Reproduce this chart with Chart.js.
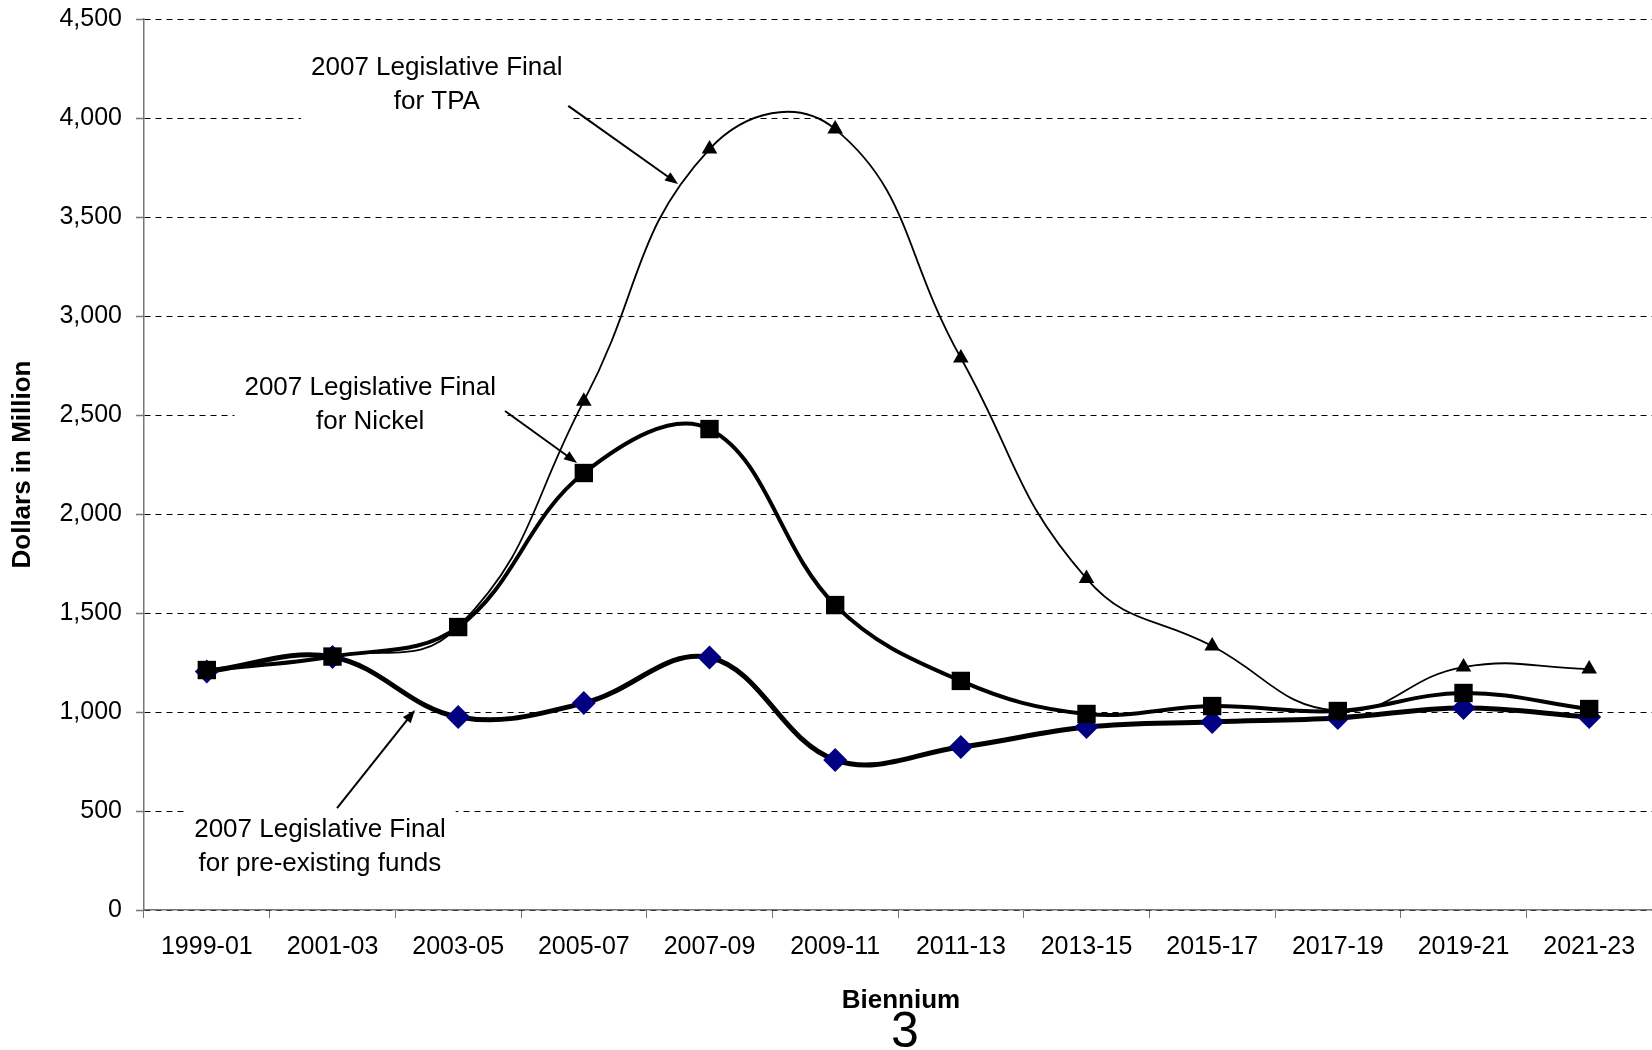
<!DOCTYPE html>
<html>
<head>
<meta charset="utf-8">
<script src="https://cdn.jsdelivr.net/npm/chart.js@4"></script>
<style>
  html, body { margin: 0; padding: 0; background: #fff; }
  canvas { display: block; }
</style>
</head>
<body>
<canvas id="biennium" width="1652" height="1050"></canvas>
<script>
// Biennium labels and values (dollars in million)
const categories = ['1999-01', '2001-03', '2003-05', '2005-07', '2007-09', '2009-11',
                    '2011-13', '2013-15', '2015-17', '2017-19', '2019-21', '2021-23'];
const tpaValues = [1210, 1280, 1430, 2570, 3843, 3944, 2788, 1674, 1333, 1005, 1227, 1217];
const nickelValues = [1212, 1280, 1429, 2207, 2429, 1540, 1157, 990, 1030, 1005, 1096, 1015];
const preExistingValues = [1205, 1278, 975, 1045, 1275, 758, 823, 924, 950, 970, 1020, 975];

// callouts: text centre, arrow start and arrow tip, given as [category index, value]
const callouts = [
  { lines: ['2007 Legislative Final', 'for TPA'], at: [1.83, 4167], from: [2.876, 4061], to: [3.75, 3667] },
  { lines: ['2007 Legislative Final', 'for Nickel'], at: [1.30, 2551], from: [2.373, 2520], to: [2.946, 2258] },
  { lines: ['2007 Legislative Final', 'for pre-existing funds'], at: [0.90, 318], from: [1.036, 515], to: [1.656, 1010] }
];

const FONT = '"Liberation Sans", Arial, sans-serif';

function pos(chart, p) {
  return { x: chart.scales.x.getPixelForValue(p[0]), y: chart.scales.y.getPixelForValue(p[1]) };
}

const calloutPlugin = {
  id: 'callouts',
  beforeDatasetsDraw(chart) {
    const ctx = chart.ctx;
    ctx.save();
    ctx.font = '26px ' + FONT;
    callouts.forEach(c => {
      const p = pos(chart, c.at);
      const w = Math.max(...c.lines.map(l => ctx.measureText(l).width)) + 20;
      ctx.fillStyle = '#fff';
      ctx.fillRect(p.x - w / 2, p.y - 38, w, 76);
    });
    ctx.restore();
  },
  afterDatasetsDraw(chart) {
    const ctx = chart.ctx;
    const area = chart.chartArea;
    ctx.save();
    ctx.fillStyle = '#000';
    ctx.strokeStyle = '#000';
    ctx.font = '26px ' + FONT;
    ctx.textAlign = 'center';
    ctx.textBaseline = 'middle';
    callouts.forEach(c => {
      const p = pos(chart, c.at);
      ctx.fillText(c.lines[0], p.x, p.y - 17);
      ctx.fillText(c.lines[1], p.x, p.y + 17);

      const a = pos(chart, c.from), b = pos(chart, c.to);
      const ang = Math.atan2(b.y - a.y, b.x - a.x);
      ctx.lineWidth = 2;
      ctx.beginPath();
      ctx.moveTo(a.x, a.y);
      ctx.lineTo(b.x - 8 * Math.cos(ang), b.y - 8 * Math.sin(ang));
      ctx.stroke();
      ctx.beginPath();
      ctx.moveTo(b.x, b.y);
      ctx.lineTo(b.x - 13 * Math.cos(ang) + 5 * Math.sin(ang), b.y - 13 * Math.sin(ang) - 5 * Math.cos(ang));
      ctx.lineTo(b.x - 13 * Math.cos(ang) - 5 * Math.sin(ang), b.y - 13 * Math.sin(ang) + 5 * Math.cos(ang));
      ctx.closePath();
      ctx.fill();
    });

    // axis titles and page number
    const cx = (area.left + area.right) / 2;
    ctx.font = 'bold 26px ' + FONT;
    ctx.fillText('Biennium', cx + 3, area.bottom + 91);
    ctx.font = '50px ' + FONT;
    ctx.fillText('3', cx + 7, area.bottom + 123);
    ctx.font = 'bold 26px ' + FONT;
    ctx.translate(23, (area.top + area.bottom) / 2);
    ctx.rotate(-Math.PI / 2);
    ctx.fillText('Dollars in Million', 0, 0);
    ctx.restore();
  }
};

new Chart(document.getElementById('biennium'), {
  type: 'line',
  data: {
    labels: categories,
    datasets: [
      {
        label: '2007 Legislative Final for TPA',
        data: tpaValues,
        borderColor: '#000',
        borderWidth: 1.8,
        pointStyle: 'triangle',
        pointRadius: 9,
        pointBackgroundColor: '#000',
        pointBorderColor: '#000',
        pointBorderWidth: 0,
        tension: 0.45,
        order: 1
      },
      {
        label: '2007 Legislative Final for Nickel',
        data: nickelValues,
        borderColor: '#000',
        borderWidth: 4,
        pointStyle: 'rect',
        pointRadius: 13,
        pointBackgroundColor: '#000',
        pointBorderColor: '#000',
        pointBorderWidth: 0,
        tension: 0.38,
        order: 2
      },
      {
        label: '2007 Legislative Final for pre-existing funds',
        data: preExistingValues,
        borderColor: '#000',
        borderWidth: 5,
        pointStyle: 'rectRot',
        pointRadius: 12,
        pointBackgroundColor: '#000080',
        pointBorderColor: '#000080',
        pointBorderWidth: 0,
        tension: 0.38,
        order: 3
      }
    ]
  },
  options: {
    responsive: false,
    animation: false,
    devicePixelRatio: 1,
    layout: { autoPadding: false, padding: { top: 19, right: 0, left: 0, bottom: 0 } },
    plugins: {
      legend: { display: false },
      tooltip: { enabled: false }
    },
    scales: {
      x: {
        offset: true,
        grid: {
          offset: true,
          drawOnChartArea: false,
          drawTicks: true,
          tickLength: 8,
          color: '#777'
        },
        border: { color: '#777', width: 1.5 },
        ticks: {
          color: '#000',
          font: { family: FONT, size: 25 },
          padding: 14,
          maxRotation: 0,
          autoSkip: false
        },
        afterFit(scale) {
          scale.height = 140;
          scale.paddingLeft = 0;
          scale.paddingRight = 0;
        }
      },
      y: {
        min: 0,
        max: 4500,
        grid: {
          color: '#000',
          lineWidth: 1,
          tickLength: 8,
          tickColor: '#777',
          tickWidth: 1.5
        },
        border: { color: '#777', width: 1.5, dash: [6, 5] },
        ticks: {
          stepSize: 500,
          color: '#000',
          font: { family: FONT, size: 25 },
          padding: 14,
          callback: v => v.toLocaleString('en-US')
        },
        afterFit(scale) {
          scale.width = 144;
          scale.paddingTop = 0;
          scale.paddingBottom = 0;
        }
      }
    }
  },
  plugins: [calloutPlugin]
});
</script>
</body>
</html>
